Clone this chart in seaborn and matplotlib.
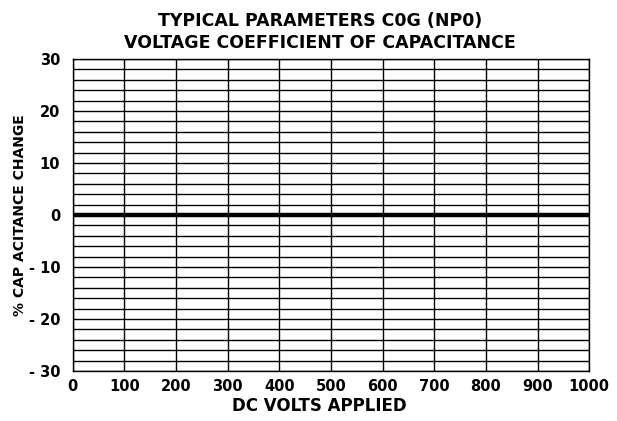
import numpy as np
import matplotlib
matplotlib.use("Agg")
import matplotlib.pyplot as plt
import seaborn as sns

# chart data
volts = [0, 1000]
cap_change = [0, 0]
x_ticks = [0, 100, 200, 300, 400, 500, 600, 700, 800, 900, 1000]
y_ticks = [-30, -20, -10, 0, 10, 20, 30]
y_labels = ['- 30', '- 20', '- 10', '0', '10', '20', '30']

sns.set_style("white")
plt.rcParams['font.family'] = ['DejaVu Sans']
plt.rcParams['font.weight'] = 'bold'
plt.rcParams['text.color'] = 'black'
plt.rcParams['axes.labelcolor'] = 'black'
plt.rcParams['xtick.color'] = 'black'
plt.rcParams['ytick.color'] = 'black'

fig = plt.figure(figsize=(6.17, 4.21), dpi=100)
ax = fig.add_axes([0.118, 0.119, 0.837, 0.741])

sns.lineplot(x=volts, y=cap_change, ax=ax, color='black', linewidth=3.2)

ax.set_xlim(0, 1000)
ax.set_ylim(-30, 30)
ax.set_xticks(x_ticks)
ax.set_xticklabels([str(v) for v in x_ticks], fontsize=10.5, fontweight='bold')
ax.set_yticks(y_ticks)
ax.set_yticklabels(y_labels, fontsize=10.5, fontweight='bold')
ax.set_xticks(np.arange(50, 1000, 100), minor=True)
ax.set_yticks(np.arange(-28, 30, 2), minor=True)

ax.grid(True, which='major', color='black', linewidth=1.0)
ax.grid(True, which='minor', axis='y', color='black', linewidth=1.0)
ax.tick_params(axis='x', which='major', direction='in', length=6, width=1, pad=6)
ax.tick_params(axis='x', which='minor', direction='in', length=4, width=1, top=False)
ax.tick_params(axis='y', which='both', direction='in', length=0, pad=9)

for s in ax.spines.values():
    s.set_color('black')
    s.set_linewidth(1.0)

ax.set_xlabel('DC VOLTS APPLIED', fontsize=12, fontweight='bold', labelpad=2)
ax.xaxis.set_label_coords(0.478, -0.085)
ax.set_ylabel('% CAP ACITANCE CHANGE', fontsize=10, fontweight='bold', labelpad=1)
ax.set_title('TYPICAL PARAMETERS C0G (NP0)\nVOLTAGE COEFFICIENT OF CAPACITANCE',
             fontsize=12.5, fontweight='bold', linespacing=1.3, pad=8, x=0.478)

fig.savefig('out.png', dpi=100, facecolor='white')
